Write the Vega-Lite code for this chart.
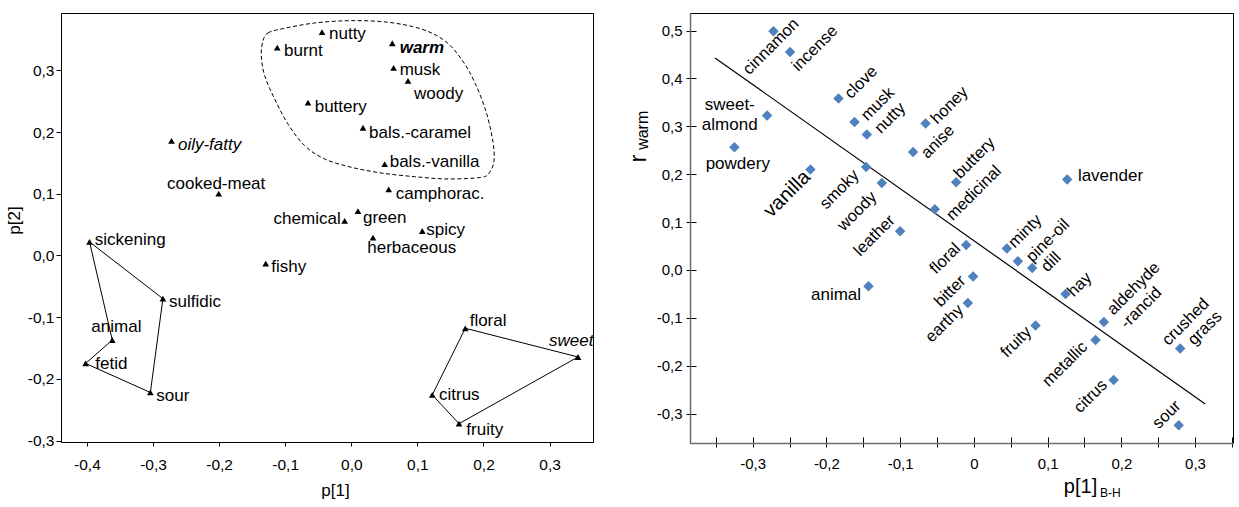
{
  "$schema": "https://vega.github.io/schema/vega-lite/v6.json",
  "padding": {"left": 4, "top": 12, "right": 4, "bottom": 4},
  "background": "white",
  "spacing": 31,
  "config": {
    "font": "Liberation Sans",
    "view": {"stroke": "black", "strokeWidth": 1},
    "axis": {"grid": false, "labelFlush": false, "labelOverlap": false, "titleFontWeight": "normal", "labelColor": "black", "titleColor": "black", "tickColor": "black", "domainColor": "black"}
  },
  "datasets": {
    "left": [
      {"name": "sickening", "x": -0.396, "y": 0.022, "lx": -0.388, "ly": 0.0246, "grp": "A", "ord": 1},
      {"name": "sulfidic", "x": -0.285, "y": -0.07, "lx": -0.2758, "ly": -0.0754, "grp": "A", "ord": 2},
      {"name": "sour", "x": -0.304, "y": -0.222, "lx": -0.295, "ly": -0.2277, "grp": "A", "ord": 3},
      {"name": "fetid", "x": -0.402, "y": -0.175, "lx": -0.3873, "ly": -0.1754, "grp": "A", "ord": 4},
      {"name": "animal", "x": -0.3616, "y": -0.137, "lx": -0.3933, "ly": -0.1159, "grp": "A", "ord": 5},
      {"name": "fishy", "x": -0.1295, "y": -0.0133, "lx": -0.121, "ly": -0.0186},
      {"name": "oily-fatty", "x": -0.272, "y": 0.1856, "lx": -0.2623, "ly": 0.179},
      {"name": "cooked-meat", "x": -0.2006, "y": 0.1002, "lx": -0.2788, "ly": 0.1154},
      {"name": "burnt", "x": -0.112, "y": 0.337, "lx": -0.1018, "ly": 0.3314},
      {"name": "nutty", "x": -0.0443, "y": 0.362, "lx": -0.0337, "ly": 0.3585},
      {"name": "warm", "x": 0.062, "y": 0.344, "lx": 0.0732, "ly": 0.3368},
      {"name": "musk", "x": 0.064, "y": 0.304, "lx": 0.0732, "ly": 0.3006},
      {"name": "woody", "x": 0.0858, "y": 0.283, "lx": 0.0949, "ly": 0.2622},
      {"name": "buttery", "x": -0.0655, "y": 0.2477, "lx": -0.0554, "ly": 0.2407},
      {"name": "bals.-caramel", "x": 0.0177, "y": 0.207, "lx": 0.0268, "ly": 0.199},
      {"name": "bals.-vanilla", "x": 0.0505, "y": 0.148, "lx": 0.0581, "ly": 0.1515},
      {"name": "camphorac.", "x": 0.0566, "y": 0.107, "lx": 0.0672, "ly": 0.1002},
      {"name": "chemical", "x": -0.01, "y": 0.056, "lx": -0.016, "ly": 0.0587},
      {"name": "green", "x": 0.0101, "y": 0.072, "lx": 0.0177, "ly": 0.0613},
      {"name": "spicy", "x": 0.1074, "y": 0.0397, "lx": 0.1135, "ly": 0.0408},
      {"name": "herbaceous", "x": 0.0328, "y": 0.0289, "lx": 0.0242, "ly": 0.0126},
      {"name": "floral", "x": 0.1725, "y": -0.118, "lx": 0.1791, "ly": -0.1062, "grp": "B", "ord": 1},
      {"name": "sweet", "x": 0.343, "y": -0.1645, "lx": 0.2991, "ly": -0.1386, "grp": "B", "ord": 2},
      {"name": "fruity", "x": 0.163, "y": -0.2726, "lx": 0.174, "ly": -0.2833, "grp": "B", "ord": 3},
      {"name": "citrus", "x": 0.1225, "y": -0.226, "lx": 0.1327, "ly": -0.2261, "grp": "B", "ord": 4}
    ],
    "blob": [
      {"ord": 1, "x": -0.1336, "y": 0.3481},
      {"ord": 2, "x": -0.126, "y": 0.3606},
      {"ord": 3, "x": -0.1059, "y": 0.3671},
      {"ord": 4, "x": -0.0554, "y": 0.3768},
      {"ord": 5, "x": 0.0, "y": 0.3806},
      {"ord": 6, "x": 0.0555, "y": 0.378},
      {"ord": 7, "x": 0.1059, "y": 0.3671},
      {"ord": 8, "x": 0.1413, "y": 0.3481},
      {"ord": 9, "x": 0.1664, "y": 0.3185},
      {"ord": 10, "x": 0.1867, "y": 0.2807},
      {"ord": 11, "x": 0.2042, "y": 0.2321},
      {"ord": 12, "x": 0.2144, "y": 0.1835},
      {"ord": 13, "x": 0.2159, "y": 0.1536},
      {"ord": 14, "x": 0.2094, "y": 0.1348},
      {"ord": 15, "x": 0.1967, "y": 0.1267},
      {"ord": 16, "x": 0.1463, "y": 0.124},
      {"ord": 17, "x": 0.0959, "y": 0.1277},
      {"ord": 18, "x": 0.0454, "y": 0.1337},
      {"ord": 19, "x": 0.0, "y": 0.143},
      {"ord": 20, "x": -0.0402, "y": 0.1564},
      {"ord": 21, "x": -0.0705, "y": 0.178},
      {"ord": 22, "x": -0.0958, "y": 0.2131},
      {"ord": 23, "x": -0.1159, "y": 0.2536},
      {"ord": 24, "x": -0.131, "y": 0.2914},
      {"ord": 25, "x": -0.1362, "y": 0.3238}
    ],
    "right": [
      {"name": "cinnamon", "label": "cinnamon", "x": -0.2718, "y": 0.4986, "lx": -0.2751, "ly": 0.4666},
      {"name": "incense", "label": "incense", "x": -0.2493, "y": 0.4554, "lx": -0.2157, "ly": 0.4628},
      {"name": "clove", "label": "clove", "x": -0.1836, "y": 0.358, "lx": -0.1529, "ly": 0.3921},
      {"name": "musk", "label": "musk", "x": -0.1619, "y": 0.3091, "lx": -0.1303, "ly": 0.3467},
      {"name": "nutty", "label": "nutty", "x": -0.1452, "y": 0.2828, "lx": -0.1136, "ly": 0.3175},
      {"name": "sweet-almond", "label": "sweet-\nalmond", "x": -0.2805, "y": 0.3225, "lx": -0.3311, "ly": 0.3455},
      {"name": "powdery", "label": "powdery", "x": -0.3247, "y": 0.2563, "lx": -0.3202, "ly": 0.2222},
      {"name": "vanilla", "label": "vanilla", "x": -0.2216, "y": 0.2097, "lx": -0.2533, "ly": 0.1587},
      {"name": "smoky", "label": "smoky", "x": -0.1461, "y": 0.2151, "lx": -0.1822, "ly": 0.1679},
      {"name": "woody", "label": "woody", "x": -0.1248, "y": 0.1817, "lx": -0.1583, "ly": 0.1226},
      {"name": "honey", "label": "honey", "x": -0.0655, "y": 0.3058, "lx": -0.033, "ly": 0.344},
      {"name": "anise", "label": "anise", "x": -0.0824, "y": 0.2465, "lx": -0.0488, "ly": 0.2678},
      {"name": "leather", "label": "leather", "x": -0.1, "y": 0.0808, "lx": -0.1347, "ly": 0.0719},
      {"name": "medicinal", "label": "medicinal", "x": -0.0529, "y": 0.1268, "lx": 0.0, "ly": 0.1608},
      {"name": "buttery", "label": "buttery", "x": -0.024, "y": 0.1832, "lx": 0.001, "ly": 0.2339},
      {"name": "lavender", "label": "lavender", "x": 0.1266, "y": 0.1888, "lx": 0.1411, "ly": 0.1972},
      {"name": "minty", "label": "minty", "x": 0.0448, "y": 0.0447, "lx": 0.0696, "ly": 0.0808},
      {"name": "floral", "label": "floral", "x": -0.0104, "y": 0.0522, "lx": -0.0389, "ly": 0.0238},
      {"name": "pine-oil", "label": "pine-oil", "x": 0.0597, "y": 0.0182, "lx": 0.1004, "ly": 0.0614},
      {"name": "dill", "label": "dill", "x": 0.0791, "y": 0.0042, "lx": 0.1049, "ly": 0.0167},
      {"name": "bitter", "label": "bitter", "x": -0.001, "y": -0.0138, "lx": -0.0322, "ly": -0.0445},
      {"name": "earthy", "label": "earthy", "x": -0.0081, "y": -0.0689, "lx": -0.0398, "ly": -0.112},
      {"name": "hay", "label": "hay", "x": 0.1244, "y": -0.0501, "lx": 0.1436, "ly": -0.0305},
      {"name": "aldehyde-rancid", "label": "aldehyde\n-rancid", "x": 0.1764, "y": -0.1086, "lx": 0.1845, "ly": -0.0884},
      {"name": "fruity", "label": "fruity", "x": 0.0837, "y": -0.1161, "lx": 0.0574, "ly": -0.1504},
      {"name": "metallic", "label": "metallic", "x": 0.1651, "y": -0.1462, "lx": 0.1237, "ly": -0.1966},
      {"name": "crushed grass", "label": "crushed\ngrass", "x": 0.2799, "y": -0.1642, "lx": 0.3155, "ly": -0.065},
      {"name": "citrus", "label": "citrus", "x": 0.1896, "y": -0.2298, "lx": 0.1585, "ly": -0.2638},
      {"name": "sour", "label": "sour", "x": 0.2778, "y": -0.3244, "lx": 0.2615, "ly": -0.302},
      {"name": "animal", "label": "animal", "x": -0.1429, "y": -0.034, "lx": -0.1529, "ly": -0.0514}
    ],
    "fit": [
      {"x": -0.351, "y": 0.4428},
      {"x": 0.3138, "y": -0.2799}
    ]
  },
  "hconcat": [
    {
      "width": 532,
      "height": 429,
      "layer": [
        {
          "data": {"name": "blob"},
          "mark": {"type": "line", "interpolate": "cardinal-closed", "color": "black", "strokeWidth": 1, "strokeDash": [4, 2.5]},
          "encoding": {
            "x": {"field": "x", "type": "quantitative", "scale": {"domain": [-0.4392, 0.3657], "nice": false, "zero": false}},
            "y": {"field": "y", "type": "quantitative", "scale": {"domain": [-0.3023, 0.393], "nice": false, "zero": false}},
            "order": {"field": "ord"}
          }
        },
        {
          "data": {"name": "left"},
          "transform": [{"filter": "isValid(datum.grp)"}],
          "mark": {"type": "line", "interpolate": "linear-closed", "color": "black", "strokeWidth": 1},
          "encoding": {
            "x": {"field": "x", "type": "quantitative"},
            "y": {"field": "y", "type": "quantitative"},
            "detail": {"field": "grp"},
            "order": {"field": "ord"}
          }
        },
        {
          "mark": {"type": "rule", "color": "black", "strokeWidth": 1},
          "encoding": {"x": {"datum": 0, "type": "quantitative"}}
        },
        {
          "mark": {"type": "rule", "color": "black", "strokeWidth": 1},
          "encoding": {"y": {"datum": 0, "type": "quantitative"}}
        },
        {
          "data": {"name": "left"},
          "mark": {"type": "point", "shape": "triangle-up", "filled": true, "size": 45, "color": "black", "opacity": 1},
          "encoding": {
            "x": {"field": "x", "type": "quantitative", "axis": {
              "values": [-0.4, -0.35, -0.3, -0.25, -0.2, -0.15, -0.1, -0.05, 0, 0.05, 0.1, 0.15, 0.2, 0.25, 0.3, 0.35],
              "labelExpr": "abs(round(datum.value*100))%10==0 ? (datum.value<0?'-':'') + replace(format(abs(datum.value),'.1f'),'.',',') : ''",
              "tickSize": 4, "labelPadding": 11, "labelFontSize": 15.5,
              "title": "p[1]", "titleFontSize": 17, "titleX": 274, "titlePadding": 10
            }},
            "y": {"field": "y", "type": "quantitative", "axis": {
              "values": [-0.3, -0.25, -0.2, -0.15, -0.1, -0.05, 0, 0.05, 0.1, 0.15, 0.2, 0.25, 0.3, 0.35],
              "labelExpr": "abs(round(datum.value*100))%10==0 ? (datum.value<0?'-':'') + replace(format(abs(datum.value),'.1f'),'.',',') : ''",
              "tickSize": 5, "labelPadding": 2, "labelFontSize": 15.5,
              "title": "p[2]", "titleFontSize": 17, "titleY": 207, "titlePadding": 4
            }}
          }
        },
        {
          "data": {"name": "left"},
          "transform": [{"filter": "indexof(['oily-fatty','warm','sweet','chemical'], datum.name) < 0"}],
          "mark": {"type": "text", "align": "left", "baseline": "middle", "fontSize": 17, "color": "black"},
          "encoding": {
            "x": {"field": "lx", "type": "quantitative"},
            "y": {"field": "ly", "type": "quantitative"},
            "text": {"field": "name"}
          }
        },
        {
          "data": {"name": "left"},
          "transform": [{"filter": "datum.name == 'chemical'"}],
          "mark": {"type": "text", "align": "right", "baseline": "middle", "fontSize": 17, "color": "black"},
          "encoding": {
            "x": {"field": "lx", "type": "quantitative"},
            "y": {"field": "ly", "type": "quantitative"},
            "text": {"field": "name"}
          }
        },
        {
          "data": {"name": "left"},
          "transform": [{"filter": "datum.name == 'oily-fatty' || datum.name == 'sweet'"}],
          "mark": {"type": "text", "align": "left", "baseline": "middle", "fontSize": 17, "fontStyle": "italic", "color": "black"},
          "encoding": {
            "x": {"field": "lx", "type": "quantitative"},
            "y": {"field": "ly", "type": "quantitative"},
            "text": {"field": "name"}
          }
        },
        {
          "data": {"name": "left"},
          "transform": [{"filter": "datum.name == 'warm'"}],
          "mark": {"type": "text", "align": "left", "baseline": "middle", "fontSize": 17, "fontStyle": "italic", "fontWeight": "bold", "color": "black"},
          "encoding": {
            "x": {"field": "lx", "type": "quantitative"},
            "y": {"field": "ly", "type": "quantitative"},
            "text": {"field": "name"}
          }
        }
      ]
    },
    {
      "width": 543,
      "height": 430,
      "resolve": {"axis": {"x": "independent", "y": "independent"}},
      "layer": [
        {
          "data": {"name": "fit"},
          "mark": {"type": "line", "color": "black", "strokeWidth": 1.2},
          "encoding": {
            "x": {"field": "x", "type": "quantitative", "scale": {"domain": [-0.385, 0.3515], "nice": false, "zero": false}, "axis": {
              "orient": "bottom",
              "values": [-0.35, -0.3, -0.25, -0.2, -0.15, -0.1, -0.05, 0, 0.05, 0.1, 0.15, 0.2, 0.25, 0.3, 0.35],
              "tickSize": -6, "labels": false, "domain": false, "title": null
            }},
            "y": {"field": "y", "type": "quantitative", "scale": {"domain": [-0.3614, 0.5368], "nice": false, "zero": false}, "axis": {
              "orient": "left",
              "values": [-0.3, -0.2, -0.1, 0, 0.1, 0.2, 0.3, 0.4, 0.5],
              "tickSize": -6, "labels": false, "domain": false, "title": null
            }}
          }
        },
        {
          "data": {"name": "right"},
          "mark": {"type": "point", "shape": "diamond", "filled": true, "size": 110, "color": "#4F81BD", "opacity": 1},
          "encoding": {
            "x": {"field": "x", "type": "quantitative", "axis": {
              "orient": "bottom",
              "values": [-0.35, -0.3, -0.25, -0.2, -0.15, -0.1, -0.05, 0, 0.05, 0.1, 0.15, 0.2, 0.25, 0.3, 0.35],
              "labelExpr": "abs(round(datum.value*100))%10==0 ? (datum.value==0 ? '0' : (datum.value<0?'-':'') + replace(format(abs(datum.value),'.1f'),'.',',')) : ''",
              "tickSize": 4, "labelPadding": 9, "labelFontSize": 15,
              "domainColor": "#6d6d6d", "domainWidth": 1.5,
              "title": "p[1]", "titleFontSize": 20, "titleX": 390, "titlePadding": 5
            }},
            "y": {"field": "y", "type": "quantitative", "axis": {
              "orient": "left",
              "values": [-0.3, -0.2, -0.1, 0, 0.1, 0.2, 0.3, 0.4, 0.5],
              "labelExpr": "(datum.value<0?'-':'') + replace(format(abs(datum.value),'.1f'),'.',',')",
              "tickSize": 4, "labelPadding": 4, "labelFontSize": 15,
              "domainColor": "#6d6d6d", "domainWidth": 1.5,
              "title": "r", "titleFontSize": 24, "titleX": -45, "titleY": 145, "titleAngle": 270, "titleBaseline": "alphabetic", "titleAlign": "center"
            }}
          }
        },
        {
          "data": {"name": "right"},
          "transform": [{"filter": "indexof(['lavender','animal','sweet-almond','powdery','vanilla','crushed grass','aldehyde-rancid'], datum.name) < 0"}],
          "mark": {"type": "text", "angle": 315, "align": "center", "baseline": "middle", "fontSize": 16.5, "color": "black"},
          "encoding": {
            "x": {"field": "lx", "type": "quantitative", "axis": null},
            "y": {"field": "ly", "type": "quantitative", "axis": null},
            "text": {"field": "label"}
          }
        },
        {
          "data": {"name": "right"},
          "transform": [{"filter": "datum.name == 'vanilla'"}],
          "mark": {"type": "text", "angle": 315, "align": "center", "baseline": "middle", "fontSize": 20, "color": "black"},
          "encoding": {
            "x": {"field": "lx", "type": "quantitative", "axis": null},
            "y": {"field": "ly", "type": "quantitative", "axis": null},
            "text": {"field": "label"}
          }
        },
        {
          "data": {"name": "right"},
          "transform": [{"filter": "datum.name == 'crushed grass'"}],
          "mark": {"type": "text", "angle": 315, "align": "right", "baseline": "middle", "fontSize": 16.5, "lineBreak": "\n", "lineHeight": 18, "color": "black"},
          "encoding": {
            "x": {"field": "lx", "type": "quantitative", "axis": null},
            "y": {"field": "ly", "type": "quantitative", "axis": null},
            "text": {"field": "label"}
          }
        },
        {
          "data": {"name": "right"},
          "transform": [{"filter": "datum.name == 'aldehyde-rancid'"}],
          "mark": {"type": "text", "angle": 315, "align": "left", "baseline": "middle", "fontSize": 16.5, "lineBreak": "\n", "lineHeight": 19, "color": "black"},
          "encoding": {
            "x": {"field": "lx", "type": "quantitative", "axis": null},
            "y": {"field": "ly", "type": "quantitative", "axis": null},
            "text": {"field": "label"}
          }
        },
        {
          "data": {"name": "right"},
          "transform": [{"filter": "datum.name == 'lavender'"}],
          "mark": {"type": "text", "align": "left", "baseline": "middle", "fontSize": 17, "color": "black"},
          "encoding": {
            "x": {"field": "lx", "type": "quantitative", "axis": null},
            "y": {"field": "ly", "type": "quantitative", "axis": null},
            "text": {"field": "label"}
          }
        },
        {
          "data": {"name": "right"},
          "transform": [{"filter": "datum.name == 'animal'"}],
          "mark": {"type": "text", "align": "right", "baseline": "middle", "fontSize": 17, "color": "black"},
          "encoding": {
            "x": {"field": "lx", "type": "quantitative", "axis": null},
            "y": {"field": "ly", "type": "quantitative", "axis": null},
            "text": {"field": "label"}
          }
        },
        {
          "data": {"name": "right"},
          "transform": [{"filter": "datum.name == 'sweet-almond' || datum.name == 'powdery'"}],
          "mark": {"type": "text", "align": "center", "baseline": "middle", "fontSize": 17, "lineBreak": "\n", "lineHeight": 20, "color": "black"},
          "encoding": {
            "x": {"field": "lx", "type": "quantitative", "axis": null},
            "y": {"field": "ly", "type": "quantitative", "axis": null},
            "text": {"field": "label"}
          }
        },
        {
          "data": {"values": [{"sub": "warm"}]},
          "mark": {"type": "text", "angle": 270, "align": "center", "baseline": "alphabetic", "fontSize": 16, "color": "black"},
          "encoding": {
            "x": {"datum": -0.442, "type": "quantitative", "axis": null},
            "y": {"datum": 0.2918, "type": "quantitative", "axis": null},
            "text": {"field": "sub"}
          }
        },
        {
          "data": {"values": [{"sub": "B-H"}]},
          "mark": {"type": "text", "align": "center", "baseline": "middle", "fontSize": 12, "color": "black"},
          "encoding": {
            "x": {"datum": 0.1852, "type": "quantitative", "axis": null},
            "y": {"datum": -0.4654, "type": "quantitative", "axis": null},
            "text": {"field": "sub"}
          }
        }
      ]
    }
  ]
}
